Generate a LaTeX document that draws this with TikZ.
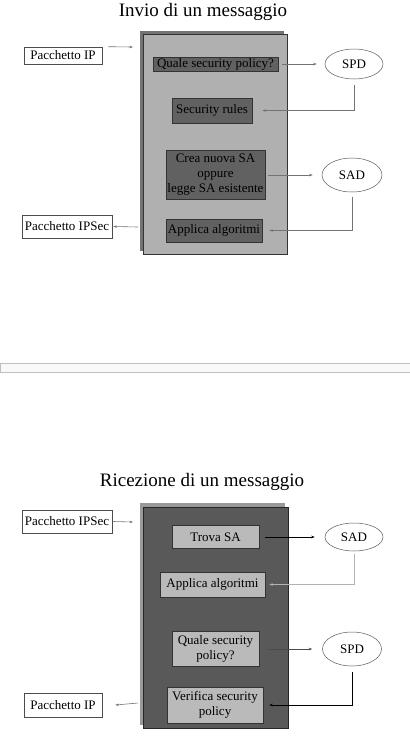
\documentclass[tikz,border=0pt]{standalone}
\usepackage{fontspec}
\setmainfont{Liberation Serif}
\usetikzlibrary{arrows.meta,shapes.geometric}
\definecolor{sepfill}{RGB}{248,249,251}
\begin{document}
\begin{tikzpicture}[x=1pt,y=-1pt,
  titolo/.style={font=\fontsize{19}{22}\selectfont},
  pacchetto/.style={draw=black!70,fill=white,line width=0.6pt,inner sep=0pt,font=\fontsize{13}{15}\selectfont},
  passo/.style={draw=black!80,line width=0.6pt,inner sep=0pt,align=center,font=\fontsize{13}{15}\selectfont},
  db/.style={ellipse,draw=black!65,line width=0.5pt,inner sep=0pt,font=\fontsize{13}{15}\selectfont},
  freccia/.style={draw=black!55,line width=0.6pt,-{Stealth[length=3.5pt,width=2.5pt]}}]
\useasboundingbox (0,0) rectangle (410,740);
\node[titolo] (t1) at (203,12) {Invio di un messaggio};
\fill[black!55] (140,31) rectangle (284,251);
\node[draw=black!80,fill=black!31,minimum width=144pt,minimum height=220pt,inner sep=0pt] (invio) at (215,144) {};
\node[pacchetto,minimum width=78pt,minimum height=17pt] (pip1) at (63,55.5) {Pacchetto IP};
\node[passo,fill=black!62,minimum width=125pt,minimum height=14pt] (q1) at (215.5,64) {Quale security policy?};
\node[db,minimum width=58pt,minimum height=30pt] (spd1) at (354,64) {SPD};
\node[passo,fill=black!62,minimum width=80pt,minimum height=25pt] (rules1) at (212,110.5) {Security rules};
\node[passo,fill=black!62,minimum width=99pt,minimum height=49pt] (crea1) at (215.5,175) {Crea nuova SA\\oppure\\legge SA esistente};
\node[db,minimum width=60pt,minimum height=34pt] (sad1) at (352,175) {SAD};
\node[passo,fill=black!62,minimum width=96pt,minimum height=23pt] (appl1) at (214,230.5) {Applica algoritmi};
\node[pacchetto,minimum width=90pt,minimum height=23pt] (ipsec1) at (67,226.5) {Pacchetto IPSec};
\coordinate (in1) at (133,47);
\coordinate (out1) at (138,227);
\draw[freccia] ([xshift=6pt]pip1.north east) -- (in1);
\draw[freccia] ([xshift=4pt]q1.east) -- ([xshift=-8pt]spd1.west);
\draw[freccia] ([yshift=-6pt]spd1.south) |- ([xshift=10pt]rules1.east);
\draw[freccia] ([xshift=3pt]crea1.east) -- ([xshift=-9pt]sad1.west);
\draw[freccia] ([yshift=-5pt]sad1.south) |- ([xshift=7pt]appl1.east);
\draw[freccia] (out1) -- ([xshift=1pt]ipsec1.east);
\filldraw[fill=sepfill,draw=black!25] (0,363) rectangle (410,372);
\node[titolo] (t2) at (202,482) {Ricezione di un messaggio};
\fill[black!40] (140,503) rectangle (285,725);
\node[draw=black!85,fill=black!65,minimum width=145pt,minimum height=221pt,inner sep=0pt] (ricez) at (215.5,617.5) {};
\node[pacchetto,minimum width=90pt,minimum height=23pt] (ipsec2) at (67,521.5) {Pacchetto IPSec};
\node[passo,fill=black!27,minimum width=87pt,minimum height=23pt] (trova) at (215.5,537) {Trova SA};
\node[db,minimum width=58pt,minimum height=28pt] (sad2) at (354,537) {SAD};
\node[passo,fill=black!27,minimum width=105pt,minimum height=25pt] (appl2) at (212.5,584.5) {Applica algoritmi};
\node[passo,fill=black!27,minimum width=87pt,minimum height=35pt] (qsp2) at (215.5,649) {Quale security\\policy?};
\node[db,minimum width=59pt,minimum height=34pt] (spd2) at (352,649) {SPD};
\node[passo,fill=black!27,minimum width=96pt,minimum height=36pt] (verif) at (215,705) {Verifica security\\policy};
\node[pacchetto,minimum width=78pt,minimum height=24pt] (pip2) at (63,705) {Pacchetto IP};
\coordinate (in2) at (133,522);
\coordinate (out2) at (138,703);
\draw[freccia] ([xshift=1pt]ipsec2.east) -- (in2);
\draw[freccia,draw=black,line width=1pt] ([xshift=6pt]trova.east) -- ([xshift=-10pt]sad2.west);
\draw[freccia,draw=black!30] ([yshift=-3pt]sad2.south) |- ([xshift=4pt]appl2.east);
\draw[freccia,draw=black!70] ([xshift=9pt]qsp2.east) -- ([xshift=-10pt]spd2.west);
\draw[freccia,draw=black] ([yshift=-6pt]spd2.south) |- ([xshift=6pt]verif.east);
\draw[freccia] (out2) -- ([xshift=13pt]pip2.east);
\end{tikzpicture}
\end{document}
